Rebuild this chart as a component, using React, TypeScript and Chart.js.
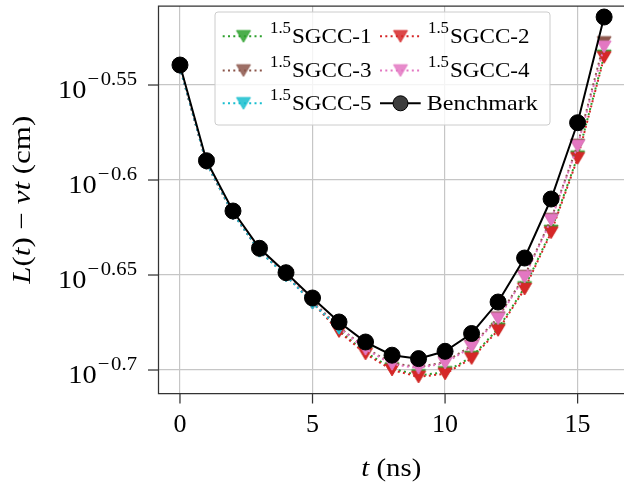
import React, { useEffect, useRef } from 'react';
import { Chart, registerables } from 'chart.js';

Chart.register(...registerables);

// ---------------- data ----------------
const tValues = [0, 1, 2, 3, 4, 5, 6, 7, 8, 9, 10, 11, 12, 13, 14, 15, 16];
const benchmark = [0.28875, 0.25713, 0.24193, 0.23124, 0.2245, 0.21772, 0.21148, 0.20641, 0.20314, 0.2023, 0.2041, 0.20855, 0.21666, 0.22853, 0.24547, 0.26925, 0.30605];
const sgcc1 = [0.28788, 0.25636, 0.2412, 0.23054, 0.22382, 0.21666, 0.20931, 0.20385, 0.19991, 0.19823, 0.19897, 0.20269, 0.20974, 0.22051, 0.23613, 0.25838, 0.29199];
const sgcc2 = [0.28788, 0.25636, 0.2412, 0.23054, 0.22382, 0.21653, 0.20906, 0.20348, 0.19955, 0.19787, 0.19861, 0.20233, 0.20936, 0.22011, 0.23568, 0.25791, 0.29146];
const sgcc3 = [0.28788, 0.25636, 0.2412, 0.23054, 0.22382, 0.2168, 0.2102, 0.20489, 0.20118, 0.20023, 0.20145, 0.20547, 0.21261, 0.2236, 0.23959, 0.2621, 0.29677];
const sgcc4 = [0.28788, 0.25636, 0.2412, 0.23054, 0.22382, 0.21653, 0.20995, 0.20464, 0.20093, 0.19999, 0.2012, 0.20522, 0.21235, 0.22333, 0.2393, 0.26179, 0.29523];
const sgcc5 = [0.28788, 0.25636, 0.2412, 0.2304, 0.22368, 0.2164, 0.20987];

const xTickValues = [0, 5, 10, 15];
const xTickLabels = ['0', '5', '10', '15'];
const yTickValues = [0.281838, 0.251189, 0.223872, 0.199526];
const yTickExponents = ['0.55', '0.6', '0.65', '0.7'];
const legendPrefix = '1.5';
const legendNames = ['SGCC-1', 'SGCC-2', 'SGCC-3', 'SGCC-4', 'SGCC-5', 'Benchmark'];

const X_MIN = -0.81;
const X_MAX = 16.75;
const Y_MIN = 0.193926;
const Y_MAX = 0.310162;

const C_GREEN = '#2ca02c';
const C_RED = '#d62728';
const C_BROWN = '#8c564b';
const C_PINK = '#e377c2';
const C_CYAN = '#17becf';

const FONT = '"Liberation Serif", "Times New Roman", serif';

function makeTriangle(color: string, alpha = 1): HTMLCanvasElement {
  const c = document.createElement('canvas');
  c.width = 18;
  c.height = 16;
  const g = c.getContext('2d')!;
  g.globalAlpha = alpha;
  g.beginPath();
  g.moveTo(2, 2.2);
  g.lineTo(16, 2.2);
  g.lineTo(9, 14);
  g.closePath();
  g.fillStyle = color;
  g.fill();
  g.lineWidth = 1;
  g.strokeStyle = color;
  g.stroke();
  return c;
}

type Part = { t: string; f: string; dy?: number; gap?: number };

function drawParts(
  ctx: CanvasRenderingContext2D,
  parts: Part[],
  x: number,
  y: number,
  align: 'left' | 'center' | 'right',
  target?: number
) {
  let w = 0;
  for (const p of parts) {
    ctx.font = p.f;
    w += ctx.measureText(p.t).width + (p.gap || 0);
  }
  const sx = target ? target / w : 1;
  const tw = w * sx;
  const startX = align === 'center' ? x - tw / 2 : align === 'right' ? x - tw : x;
  ctx.save();
  ctx.translate(startX, y);
  ctx.scale(sx, 1);
  ctx.textAlign = 'left';
  ctx.textBaseline = 'alphabetic';
  let cx = 0;
  for (const p of parts) {
    ctx.font = p.f;
    ctx.fillText(p.t, cx, p.dy || 0);
    cx += ctx.measureText(p.t).width + (p.gap || 0);
  }
  ctx.restore();
}

export default function App() {
  const ref = useRef<HTMLCanvasElement | null>(null);

  useEffect(() => {
    const canvas = ref.current;
    if (!canvas) return;

    const colors = [C_GREEN, C_RED, C_BROWN, C_PINK, C_CYAN];
    const tri = colors.map((c) => makeTriangle(c));
    const triLegend = colors.map((c) => makeTriangle(c, 0.85));
    const series = [sgcc1, sgcc2, sgcc3, sgcc4, sgcc5];
    const mk = (vals: number[]) => vals.map((v, i) => ({ x: tValues[i], y: v }));

    const datasets: any[] = series.map((s, i) => ({
      label: legendNames[i],
      data: mk(s),
      borderColor: colors[i],
      backgroundColor: colors[i],
      borderWidth: 2,
      borderDash: [2, 3.3],
      pointStyle: tri[i],
      pointRadius: 8,
      pointHoverRadius: 8,
      tension: 0,
      order: 5 - i,
    }));
    datasets.push({
      label: legendNames[5],
      data: mk(benchmark),
      borderColor: '#000',
      backgroundColor: '#000',
      borderWidth: 2,
      pointStyle: 'circle',
      pointRadius: 8,
      pointBackgroundColor: '#000',
      pointBorderColor: '#000',
      pointBorderWidth: 1,
      tension: 0,
      order: 0,
    });

    const decor = {
      id: 'decor',
      afterDraw(chart: any) {
        const ctx: CanvasRenderingContext2D = chart.ctx;
        const a = chart.chartArea;
        const xs = chart.scales.x;
        const ys = chart.scales.y;
        ctx.save();
        // spines
        ctx.strokeStyle = '#333';
        ctx.lineWidth = 1.25;
        ctx.beginPath();
        ctx.moveTo(a.right + 2, a.top);
        ctx.lineTo(a.left, a.top);
        ctx.lineTo(a.left, a.bottom);
        ctx.lineTo(a.right + 2, a.bottom);
        ctx.stroke();
        // x ticks
        ctx.fillStyle = '#000';
        xTickValues.forEach((v, i) => {
          const px = xs.getPixelForValue(v);
          ctx.beginPath();
          ctx.moveTo(px, a.bottom);
          ctx.lineTo(px, a.bottom + 10);
          ctx.stroke();
          drawParts(ctx, [{ t: xTickLabels[i], f: `26px ${FONT}` }], px, 432, 'center');
        });
        // y ticks
        yTickValues.forEach((v, i) => {
          const py = ys.getPixelForValue(v);
          ctx.beginPath();
          ctx.moveTo(a.left - 10.5, py);
          ctx.lineTo(a.left, py);
          ctx.stroke();
          drawParts(
            ctx,
            [
              { t: '10', f: `26px ${FONT}`, gap: 1 },
              { t: '\u2212', f: `19px ${FONT}`, dy: -13.3, gap: 1.5 },
              { t: yTickExponents[i], f: `19px ${FONT}`, dy: -13.3 },
            ],
            137,
            py + 13.3,
            'right',
            yTickExponents[i].length > 3 ? 79 : 68.7
          );
        });
        // x title
        drawParts(
          ctx,
          [
            { t: 't', f: `italic 26px ${FONT}` },
            { t: ' (ns)', f: `26px ${FONT}` },
          ],
          (a.left + a.right) / 2,
          476,
          'center',
          60
        );
        // y title
        ctx.save();
        ctx.translate(29.5, (a.top + a.bottom) / 2);
        ctx.rotate(-Math.PI / 2);
        drawParts(
          ctx,
          [
            { t: 'L', f: `italic 26px ${FONT}` },
            { t: '(', f: `26px ${FONT}` },
            { t: 't', f: `italic 26px ${FONT}` },
            { t: ')', f: `26px ${FONT}` },
            { t: ' \u2212 ', f: `26px ${FONT}` },
            { t: '\u03bdt', f: `italic 26px ${FONT}` },
            { t: ' (cm)', f: `26px ${FONT}` },
          ],
          0,
          0,
          'center',
          168
        );
        ctx.restore();

        // legend
        const lx0 = 215, ly0 = 12, lx1 = 550, ly1 = 125;
        ctx.fillStyle = 'rgba(255,255,255,0.8)';
        ctx.strokeStyle = '#cccccc';
        ctx.lineWidth = 1;
        ctx.beginPath();
        const r = 3;
        ctx.moveTo(lx0 + r, ly0);
        ctx.arcTo(lx1, ly0, lx1, ly1, r);
        ctx.arcTo(lx1, ly1, lx0, ly1, r);
        ctx.arcTo(lx0, ly1, lx0, ly0, r);
        ctx.arcTo(lx0, ly0, lx1, ly0, r);
        ctx.closePath();
        ctx.fill();
        ctx.stroke();

        const cols = [
          { l0: 222.7, l1: 263, m: 243.5, tx: 270 },
          { l0: 380, l1: 420.7, m: 400.5, tx: 428 },
        ];
        const rowsMarker = [36.3, 70.5, 103.3];
        const rowsBase = [43.3, 77.3, 110];
        for (let k = 0; k < 6; k++) {
          const col = cols[k % 2];
          const row = Math.floor(k / 2);
          const my = rowsMarker[row];
          const by = rowsBase[row];
          ctx.beginPath();
          ctx.moveTo(col.l0, my);
          ctx.lineTo(col.l1, my);
          if (k < 5) {
            ctx.strokeStyle = colors[k];
            ctx.lineWidth = 2;
            ctx.setLineDash([2, 3.3]);
            ctx.stroke();
            ctx.setLineDash([]);
            const im = triLegend[k];
            ctx.drawImage(im, col.m - im.width / 2, my - im.height / 2);
            ctx.fillStyle = '#000';
            drawParts(
              ctx,
              [
                { t: legendPrefix, f: `16px ${FONT}`, dy: -10, gap: 1 },
                { t: legendNames[k], f: `22px ${FONT}` },
              ],
              col.tx,
              by,
              'left',
              101.5
            );
          } else {
            ctx.strokeStyle = '#000';
            ctx.lineWidth = 2;
            ctx.stroke();
            ctx.beginPath();
            ctx.arc(col.m, my, 7.5, 0, Math.PI * 2);
            ctx.fillStyle = '#3c3c3c';
            ctx.fill();
            ctx.lineWidth = 1;
            ctx.strokeStyle = '#000';
            ctx.stroke();
            ctx.fillStyle = '#000';
            drawParts(ctx, [{ t: legendNames[k], f: `22px ${FONT}` }], 426.7, by, 'left', 111);
          }
        }
        ctx.restore();
      },
    };

    const chart = new Chart(canvas, {
      type: 'line',
      data: { datasets },
      options: {
        animation: false,
        responsive: false,
        maintainAspectRatio: false,
        devicePixelRatio: 1,
        layout: { autoPadding: false, padding: { left: 158.5, top: 6, right: 0, bottom: 483 - 393.5 } },
        plugins: { legend: { display: false }, tooltip: { enabled: false } },
        events: [],
        scales: {
          x: {
            type: 'linear',
            min: X_MIN,
            max: X_MAX,
            afterBuildTicks: (scale: any) => {
              scale.ticks = xTickValues.map((v) => ({ value: v }));
            },
            ticks: { display: false },
            grid: { color: '#c6c6c6', lineWidth: 1.2, drawTicks: false },
            border: { display: false },
          },
          y: {
            type: 'logarithmic',
            min: Y_MIN,
            max: Y_MAX,
            afterBuildTicks: (scale: any) => {
              scale.ticks = yTickValues.map((v) => ({ value: v }));
            },
            ticks: { display: false },
            grid: { color: '#c6c6c6', lineWidth: 1.2, drawTicks: false },
            border: { display: false },
          },
        },
      } as any,
      plugins: [decor],
    });
    return () => chart.destroy();
  }, []);

  return (
    <canvas
      ref={ref}
      width={624}
      height={483}
      style={{ position: 'absolute', left: 0, top: 0, width: 624, height: 483, background: '#fff' }}
    />
  );
}
